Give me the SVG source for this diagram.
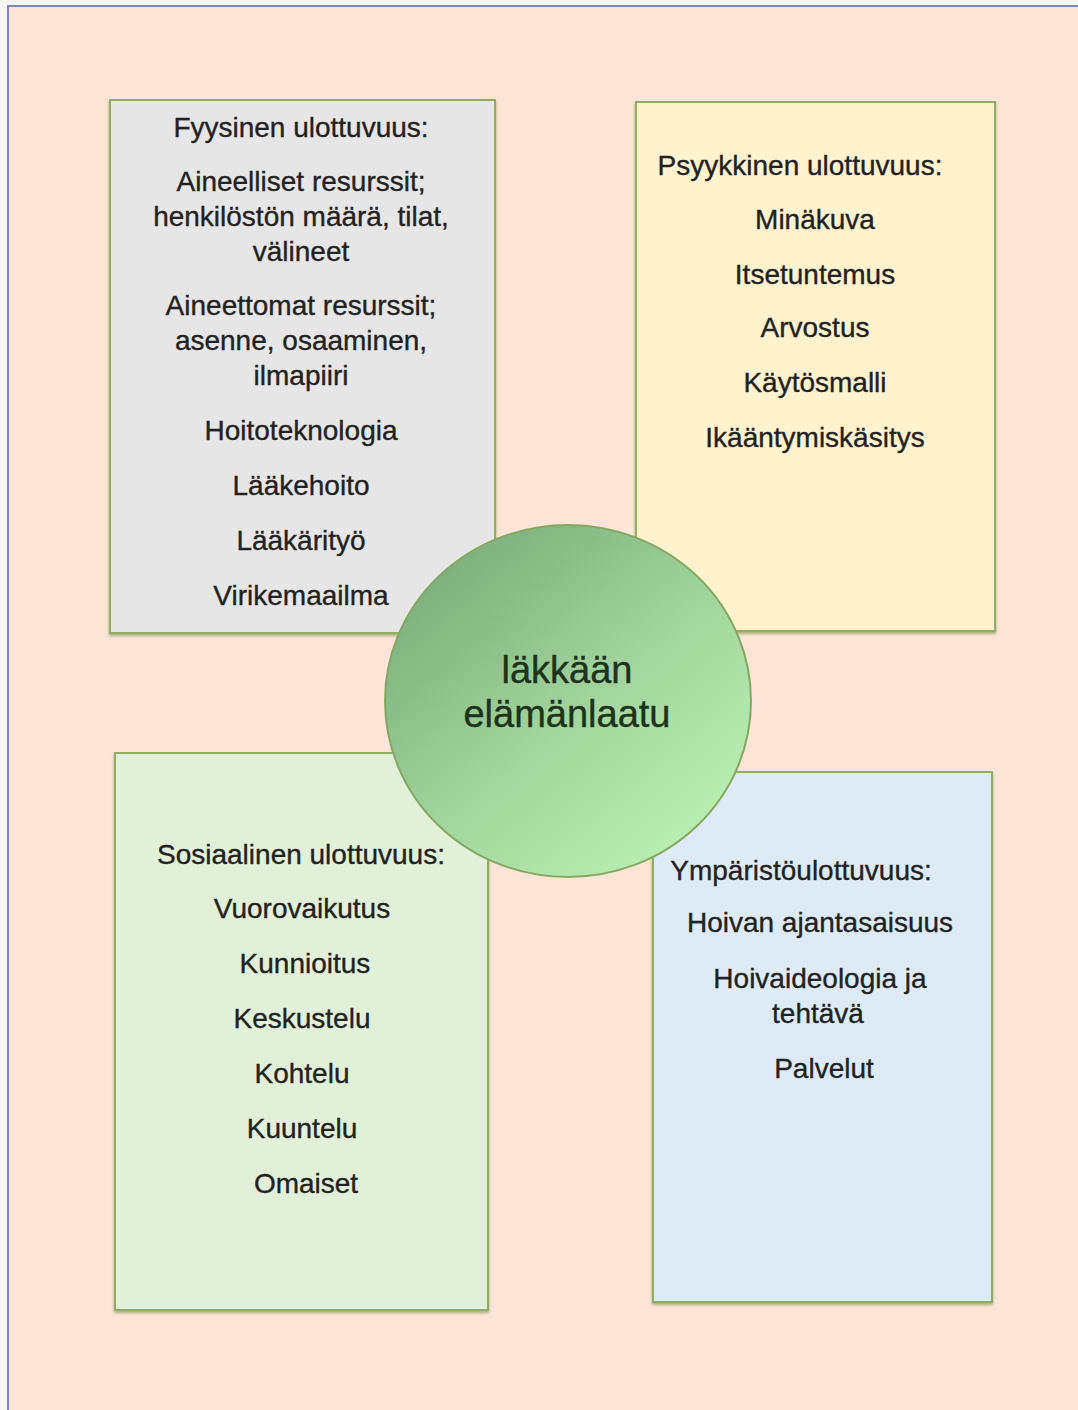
<svg xmlns="http://www.w3.org/2000/svg" width="1078" height="1410" viewBox="0 0 1078 1410">
<style>
.box{stroke:#8fae62;stroke-width:2}
.t{font-family:"Liberation Sans",Arial,sans-serif;font-size:28px;fill:#222;stroke:#222;stroke-width:0.35;text-anchor:middle}
.c{font-family:"Liberation Sans",Arial,sans-serif;font-size:38px;fill:#1c331c;stroke:#1c331c;stroke-width:0.4;text-anchor:middle}
</style>
<defs>
<linearGradient id="g" x1="0.15" y1="0.1" x2="0.85" y2="0.9">
<stop offset="0" stop-color="#7dae7c"/>
<stop offset="0.55" stop-color="#a3d69e"/>
<stop offset="1" stop-color="#b8efb3"/>
</linearGradient>
<filter id="sh" x="-5%" y="-5%" width="110%" height="110%">
<feDropShadow dx="0" dy="2" stdDeviation="1.5" flood-color="#6d8a45" flood-opacity="0.6"/>
</filter>
</defs>
<rect x="0" y="0" width="1078" height="1410" fill="#f6f7f0"/>
<rect id="frame" x="8" y="6" width="1090" height="1420" fill="#fce5d7" stroke="#7d89b0" stroke-width="2"/>
<g id="connectors"/>
<g id="fyysinen">
<rect class="box" x="110" y="100" width="385" height="533" fill="#e7e6e6" filter="url(#sh)"/>
<text class="t" x="301" y="137">Fyysinen ulottuvuus:</text>
<text class="t" x="301" y="191">Aineelliset resurssit;</text>
<text class="t" x="301" y="226">henkilöstön määrä, tilat,</text>
<text class="t" x="301" y="261">välineet</text>
<text class="t" x="301" y="315">Aineettomat resurssit;</text>
<text class="t" x="301" y="350">asenne, osaaminen,</text>
<text class="t" x="301" y="385">ilmapiiri</text>
<text class="t" x="301" y="440">Hoitoteknologia</text>
<text class="t" x="301" y="495">Lääkehoito</text>
<text class="t" x="301" y="550">Lääkärityö</text>
<text class="t" x="301" y="605">Virikemaailma</text>
</g>
<g id="psyykkinen">
<rect class="box" x="636" y="102" width="359" height="529" fill="#fff2cc" filter="url(#sh)"/>
<text class="t" x="800" y="175">Psyykkinen ulottuvuus:</text>
<text class="t" x="815" y="229">Minäkuva</text>
<text class="t" x="815" y="284">Itsetuntemus</text>
<text class="t" x="815" y="337">Arvostus</text>
<text class="t" x="815" y="392">Käytösmalli</text>
<text class="t" x="815" y="447">Ikääntymiskäsitys</text>
</g>
<g id="sosiaalinen">
<rect class="box" x="115" y="753" width="373" height="557" fill="#e2efd9" filter="url(#sh)"/>
<text class="t" x="301" y="864">Sosiaalinen ulottuvuus:</text>
<text class="t" x="302" y="918">Vuorovaikutus</text>
<text class="t" x="305" y="973">Kunnioitus</text>
<text class="t" x="302" y="1028">Keskustelu</text>
<text class="t" x="302" y="1083">Kohtelu</text>
<text class="t" x="302" y="1138">Kuuntelu</text>
<text class="t" x="306" y="1193">Omaiset</text>
</g>
<g id="ymparisto">
<rect class="box" x="653" y="772" width="339" height="530" fill="#deebf7" filter="url(#sh)"/>
<text class="t" x="801" y="880">Ympäristöulottuvuus:</text>
<text class="t" x="820" y="932">Hoivan ajantasaisuus</text>
<text class="t" x="820" y="988">Hoivaideologia ja</text>
<text class="t" x="818" y="1023">tehtävä</text>
<text class="t" x="824" y="1078">Palvelut</text>
</g>
<g id="center">
<ellipse cx="568" cy="701" rx="183" ry="176" fill="url(#g)" stroke="#86a85e" stroke-width="2"/>
<text class="c" x="567" y="683">läkkään</text>
<text class="c" x="567" y="727">elämänlaatu</text>
</g>
</svg>
